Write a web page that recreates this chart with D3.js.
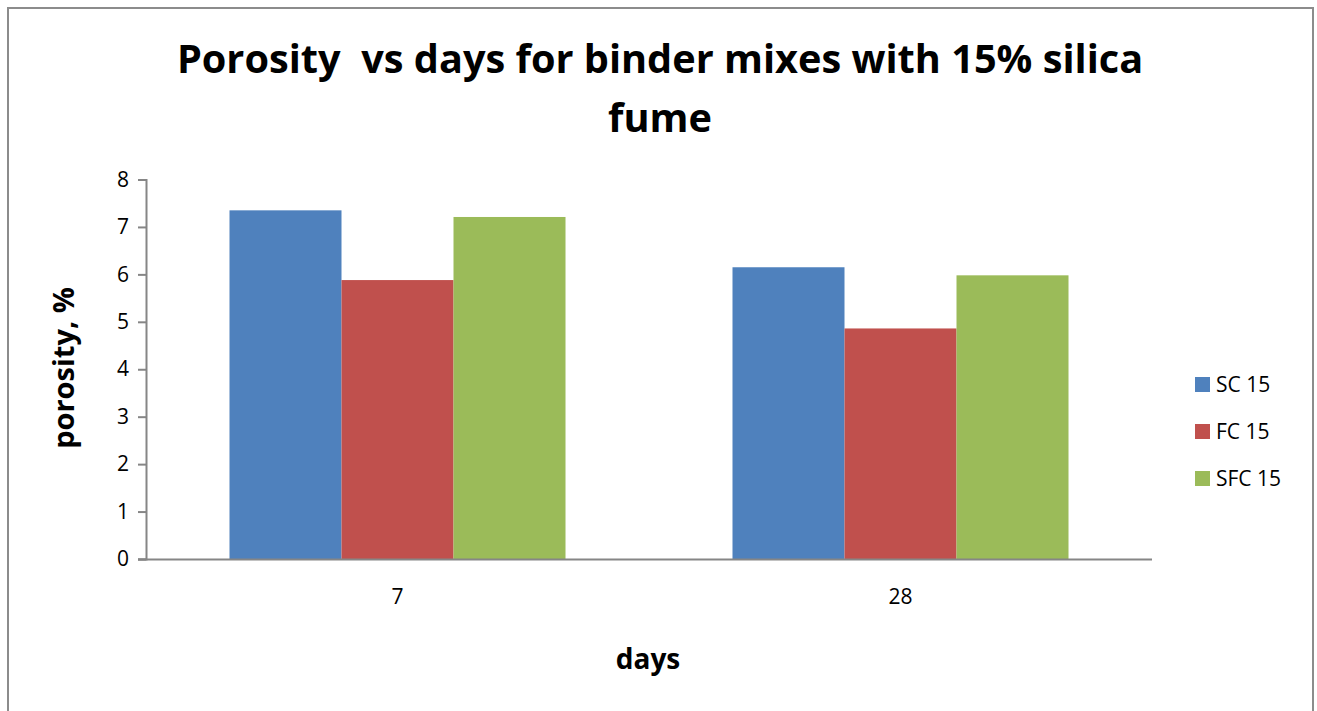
<!DOCTYPE html>
<html>
<head>
<meta charset="utf-8">
<script src="https://cdn.jsdelivr.net/npm/d3@7"></script>
<style>
  html, body { margin: 0; padding: 0; background: #fff; }
  svg { display: block; }
  text { font-family: "Open Sans", "Noto Sans", sans-serif; }
</style>
</head>
<body>
<svg id="chart" width="1317" height="711"></svg>
<script>
// Porosity (%) by curing age for each binder mix
const days = ["7", "28"];
const seriesNames = ["SC 15", "FC 15", "SFC 15"];
const scValues = [7.35, 6.15];
const fcValues = [5.88, 4.86];
const sfcValues = [7.21, 5.98];
const yTicks = [0, 1, 2, 3, 4, 5, 6, 7, 8];
const colors = ["#4f81bd", "#c0504d", "#9bbb59"];

const values = [scValues, fcValues, sfcValues];

const svg = d3.select("#chart");

// outer frame
svg.append("rect")
  .attr("x", 8).attr("y", 8)
  .attr("width", 1305).attr("height", 720)
  .attr("fill", "#fff")
  .attr("stroke", "#8c8c8c").attr("stroke-width", 2);

const plot = { left: 146, right: 1152, top: 179.5, bottom: 559 };

const x0 = d3.scaleBand()
  .domain(days)
  .range([plot.left, plot.right])
  .paddingInner(0.332)
  .paddingOuter(0.166);

const xOuter = d3.scaleBand().domain(days).range([plot.left, plot.right]);
const x1 = d3.scaleBand()
  .domain(seriesNames)
  .range([0, x0.bandwidth()]);

const y = d3.scaleLinear().domain([0, 8]).range([plot.bottom, plot.top]);

// bars
const groups = svg.append("g").selectAll("g")
  .data(days)
  .join("g")
  .attr("transform", d => `translate(${x0(d)},0)`);

groups.selectAll("rect")
  .data((d, i) => seriesNames.map((s, k) => ({ s, k, v: values[k][i] })))
  .join("rect")
  .attr("x", d => x1(d.s))
  .attr("width", x1.bandwidth())
  .attr("y", d => y(d.v))
  .attr("height", d => y(0) - y(d.v))
  .attr("fill", d => colors[d.k]);

// y axis
const yAxis = svg.append("g")
  .attr("transform", `translate(${plot.left},0)`)
  .call(d3.axisLeft(y).tickValues(yTicks).tickSize(8).tickPadding(9).tickFormat(d3.format("d")));
yAxis.select(".domain").attr("stroke", "#868686").attr("stroke-width", 2);
yAxis.selectAll(".tick line").attr("stroke", "#868686").attr("stroke-width", 2);
yAxis.selectAll(".tick text")
  .attr("font-size", 21).attr("fill", "#000")
  .style("font-family", "'Open Sans', sans-serif");

// x axis
const xAxis = svg.append("g")
  .attr("transform", `translate(0,${plot.bottom})`)
  .call(d3.axisBottom(xOuter).tickSize(0).tickPadding(30));
xAxis.select(".domain").attr("stroke", "#868686").attr("stroke-width", 2)
  .attr("d", `M${plot.left - 8},0.5H${plot.right}`);
xAxis.selectAll(".tick text")
  .attr("font-size", 21).attr("fill", "#000")
  .style("font-family", "'Open Sans', sans-serif");

// title
const title = svg.append("text")
  .attr("text-anchor", "middle")
  .attr("font-weight", "bold")
  .attr("font-size", 39.7)
  .attr("fill", "#000");
title.append("tspan").attr("x", 660).attr("y", 73)
  .text("Porosity\u00a0 vs days for binder mixes with 15% silica");
title.append("tspan").attr("x", 660).attr("y", 132).text("fume");

// axis titles
svg.append("text")
  .attr("transform", "translate(74,368) rotate(-90)")
  .attr("text-anchor", "middle")
  .attr("font-weight", "bold")
  .attr("font-size", 29)
  .text("porosity, %");

svg.append("text")
  .attr("x", 648).attr("y", 669)
  .attr("text-anchor", "middle")
  .attr("font-weight", "bold")
  .attr("font-size", 28)
  .text("days");

// legend
const legend = svg.append("g").selectAll("g")
  .data(seriesNames)
  .join("g")
  .attr("transform", (d, i) => `translate(1195,${377 + i * 47})`);
legend.append("rect")
  .attr("width", 15).attr("height", 15)
  .attr("fill", (d, i) => colors[i]);
legend.append("text")
  .attr("x", 21).attr("y", 15)
  .attr("font-size", 21)
  .text(d => d);
</script>
</body>
</html>
